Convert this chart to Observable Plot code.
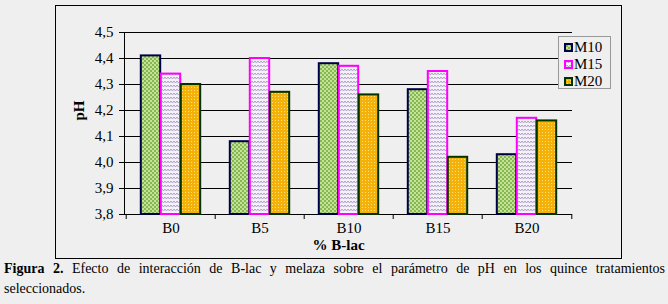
<!DOCTYPE html>
<html>
<head>
<meta charset="utf-8">
<script src="https://cdn.jsdelivr.net/npm/d3@7"></script>
<script src="https://cdn.jsdelivr.net/npm/@observablehq/plot@0.6"></script>
<style>
  html, body { margin: 0; padding: 0; background: #efefef; }
  #wrap { position: relative; width: 668px; height: 304px; overflow: hidden; font-family: "Liberation Serif", Tinos, "DejaVu Serif", serif; }
  #frame { position: absolute; left: 55px; top: 5px; width: 567px; height: 254px; box-sizing: border-box; border: 1px solid #000; }
  #chart { position: absolute; left: 0; top: 0; }
  #legend { position: absolute; left: 558px; top: 36px; width: 53px; height: 53px; box-sizing: border-box; border: 1px solid #999; background: #efefef; }
  .item { position: absolute; left: 5px; height: 16px; font-size: 15px; line-height: 16px; color: #000; }
  .item svg { position: absolute; left: 0; top: 4px; }
  .item span { position: absolute; left: 10px; top: 0; }
  #caption { position: absolute; left: 4px; top: 259px; width: 661px; font-size: 14px; line-height: 20px; color: #000; }
  #caption .l1 { text-align: justify; text-align-last: justify; white-space: nowrap; }
</style>
</head>
<body>
<div id="wrap">
  <div id="frame"></div>
  <div id="chart"></div>
  <div id="legend"></div>
  <div id="caption">
    <div class="l1"><b>Figura 2.</b> Efecto de interacción de B-lac y melaza sobre el parámetro de pH en los quince tratamientos</div>
    <div>seleccionados.</div>
  </div>
</div>
<script>
const categories = ["B0", "B5", "B10", "B15", "B20"];
const seriesNames = ["M10", "M15", "M20"];
const m10 = [4.41, 4.08, 4.38, 4.28, 4.03];
const m15 = [4.34, 4.40, 4.37, 4.35, 4.17];
const m20 = [4.30, 4.27, 4.26, 4.02, 4.16];
const yTicks = [3.8, 3.9, 4.0, 4.1, 4.2, 4.3, 4.4, 4.5];
const yDomain = [3.8, 4.5];
const xLabel = "% B-lac";
const yLabel = "pH";

const seriesValues = {M10: m10, M15: m15, M20: m20};
const strokes = {M10: "#000046", M15: "#ff00ff", M20: "#003300"};
const fills = {M10: "url(#pM10)", M15: "url(#pM15)", M20: "url(#pM20)"};

const rows = categories.flatMap((c, i) => seriesNames.map(s => ({cat: c, series: s, v: seriesValues[s][i]})));

const W = 668, H = 262, ML = 124, MR = 96, MT = 32, MB = 48;
const bw = (W - ML - MR) / categories.length;
const barW = 20;
const inset = (bw - barW) / 2;
const fmt = d => d3.format(".1f")(d).replace(".", ",");
const FONT = "'Liberation Serif', Tinos, 'DejaVu Serif', serif";

const barMarks = seriesNames.map((s, k) =>
  Plot.barY(rows.filter(d => d.series === s), {
    x: "cat", y1: yDomain[0], y2: "v",
    insetLeft: inset, insetRight: inset, dx: (k - 1) * barW,
    fill: fills[s], stroke: strokes[s], strokeWidth: 2
  })
);

const chart = Plot.plot({
  width: W, height: H,
  marginLeft: ML, marginRight: MR, marginTop: MT, marginBottom: MB,
  style: {background: "transparent", fontFamily: FONT, fontSize: "14px", color: "#000", overflow: "visible"},
  x: {domain: categories, padding: 0, axis: null},
  y: {domain: yDomain, axis: null},
  marks: [
    Plot.gridY(yTicks, {stroke: "#000", strokeOpacity: 1, strokeWidth: 1}),
    Plot.frame({anchor: "left", stroke: "#000"}),
    Plot.axisY(yTicks, {tickSize: 5, tickPadding: 6, tickFormat: fmt, label: null, fontSize: 15}),
    Plot.axisX(categories, {tickSize: 0, tickPadding: 8, label: null, fontSize: 15}),
    Plot.axisX(categories, {tickSize: 5, dx: -bw / 2, fill: "none", label: null}),
    Plot.axisX([categories[categories.length - 1]], {tickSize: 5, dx: bw / 2, fill: "none", label: null}),
    ...barMarks,
    Plot.text([xLabel], {frameAnchor: "bottom", dx: -10, dy: 35, text: d => d, fontWeight: "bold", fontSize: 15}),
    Plot.text([yLabel], {frameAnchor: "left", dx: -45, dy: -3, rotate: -90, text: d => d, fontWeight: "bold", fontSize: 15})
  ]
});

// patterns
const defs = d3.select(chart).insert("defs", ":first-child");
const p1 = defs.append("pattern").attr("id", "pM10").attr("patternUnits", "userSpaceOnUse").attr("width", 4).attr("height", 4);
p1.append("rect").attr("width", 4).attr("height", 4).attr("fill", "#c4e398");
p1.append("rect").attr("x", 0).attr("y", 0).attr("width", 2).attr("height", 2).attr("fill", "#86b852");
p1.append("rect").attr("x", 2).attr("y", 2).attr("width", 2).attr("height", 2).attr("fill", "#86b852");
const p2 = defs.append("pattern").attr("id", "pM15").attr("patternUnits", "userSpaceOnUse").attr("width", 6).attr("height", 4);
p2.append("rect").attr("width", 6).attr("height", 4).attr("fill", "#f5f1f9");
p2.append("polyline").attr("points", "0,1 1.5,3 3,1 4.5,3 6,1").attr("fill", "none").attr("stroke", "#a797bf").attr("stroke-width", 0.9);
const p3 = defs.append("pattern").attr("id", "pM20").attr("patternUnits", "userSpaceOnUse").attr("width", 3).attr("height", 3);
p3.append("rect").attr("width", 3).attr("height", 3).attr("fill", "#f4b10a");
p3.append("rect").attr("x", 0).attr("y", 0).attr("width", 1).attr("height", 1).attr("fill", "#ffe07a");

document.getElementById("chart").appendChild(chart);

// legend
const legend = document.getElementById("legend");
seriesNames.forEach((s, k) => {
  const item = document.createElement("div");
  item.className = "item";
  item.style.top = (2 + k * 17) + "px";
  item.innerHTML = `<svg width="9" height="9"><rect x="1" y="1" width="7" height="7" fill="${fills[s]}" stroke="${strokes[s]}" stroke-width="2"/></svg><span>${s}</span>`;
  legend.appendChild(item);
});
</script>
</body>
</html>
